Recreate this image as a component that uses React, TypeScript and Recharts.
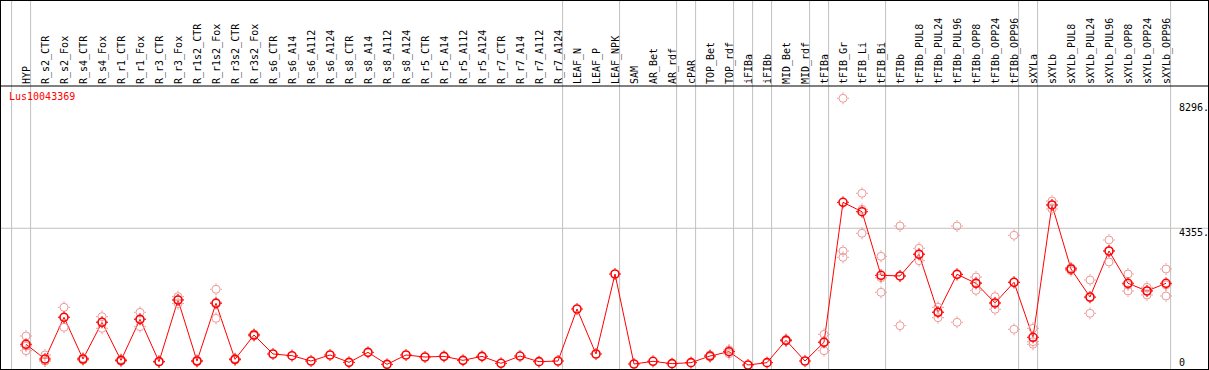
import { ComposedChart, Line, XAxis, YAxis, ReferenceLine } from 'recharts';

const labels = [
  'HYP', 'R_s2_CTR', 'R_s2_Fox', 'R_s4_CTR', 'R_s4_Fox', 'R_r1_CTR', 'R_r1_Fox', 'R_r3_CTR', 'R_r3_Fox',
  'R_r1s2_CTR', 'R_r1s2_Fox', 'R_r3s2_CTR', 'R_r3s2_Fox', 'R_s6_CTR', 'R_s6_A14', 'R_s6_A112', 'R_s6_A124',
  'R_s8_CTR', 'R_s8_A14', 'R_s8_A112', 'R_s8_A124', 'R_r5_CTR', 'R_r5_A14', 'R_r5_A112', 'R_r5_A124',
  'R_r7_CTR', 'R_r7_A14', 'R_r7_A112', 'R_r7_A124', 'LEAF_N', 'LEAF_P', 'LEAF_NPK', 'SAM', 'AR_Bet', 'AR_rdf',
  'cPAR', 'TOP_Bet', 'TOP_rdf', 'iFIBa', 'iFIBb', 'MID_Bet', 'MID_rdf', 'tFIBa', 'tFIB_Gr', 'tFIB_Li', 'tFIB_Bi',
  'tFIBb', 'tFIBb_PUL8', 'tFIBb_PUL24', 'tFIBb_PUL96', 'tFIBb_OPP8', 'tFIBb_OPP24', 'tFIBb_OPP96',
  'sXYLa', 'sXYLb', 'sXYLb_PUL8', 'sXYLb_PUL24', 'sXYLb_PUL96', 'sXYLb_OPP8', 'sXYLb_OPP24', 'sXYLb_OPP96',
];

const means = [
  697, 233, 1548, 233, 1390, 191, 1484, 149, 2093, 170, 1989, 223, 990, 391, 338, 170, 359, 128, 443, 65, 359,
  296, 317, 191, 317, 97, 327, 149, 170, 1810, 391, 2913, 76, 160, 86, 118, 327, 464, 44, 118, 822, 170, 759,
  5173, 4877, 2872, 2851, 3534, 1705, 2903, 2620, 1999, 2651, 917, 5089, 3071, 2188, 3638, 2620, 2377, 2620,
];

const N = null;
const rep1 = [
  958, 360, 1863, 260, 1568, 220, 1705, 160, 2200, 190, 2431, 250, 1020, N, N, N, N, N, N, N, N,
  N, N, N, N, N, N, N, N, N, N, N, N, N, N, N, 360, 520, N, N, 850, N, 1011,
  8452, 5457, 3471, 4426, 3723, 1863, 4426, 2819, 2198, 4133, 1201, 5215, 3113, 2724, 3985, 2913, 2494, 3071,
];
const rep2 = [
  496, 170, 1233, 200, 1201, 160, 1253, 140, 1980, 150, 1516, 200, 960, N, N, N, N, N, N, N, N,
  N, N, N, N, N, N, N, N, N, N, N, N, N, N, N, 300, 400, N, N, 800, N, 496,
  3638, 4196, 2336, 1284, 3333, 1536, 1390, 2399, 1800, 1170, 697, 4963, 3019, 1674, 3292, 2377, 2251, 2220,
];
const rep3 = [
  640, 170, 1548, 240, 1400, 190, 1494, 150, 2100, 170, 2020, 220, 990, N, N, N, N, N, N, N, N,
  N, N, N, N, N, N, N, N, N, N, N, N, N, N, N, 320, 470, N, N, 815, N, 770,
  3439, 4950, 2797, 2843, 3546, 1716, 2893, 2642, 2000, 2650, 780, 5089, 3080, 2166, 3637, 2570, 2386, 2569,
];

// a grey separator follows each of these category indices
const groupEnds = [-1, 0, 28, 31, 34, 35, 37, 38, 39, 41, 42, 45, 52, 53, 60];

const yTicks = [0, 4355, 8296];
const yTickLabels = ['0', '4355.', '8296.'];

const geneName = 'Lus10043369';

const data = labels.map((name, i) => ({
  i,
  name,
  mean: means[i],
  r1: rep1[i],
  r2: rep2[i],
  r3: rep3[i],
}));

const FONT = '"DejaVu Sans Mono", monospace';
const RED = '#ff0000';
const PINK = '#ec9a9a';
const GRID = '#c0c0c0';

const Marker = ({ cx, cy, color, width }: any) => {
  if (cx == null || cy == null) return null;
  return (
    <g>
      <circle cx={cx} cy={cy} r={4} fill="none" stroke={color} strokeWidth={width} />
      <line x1={cx} y1={cy - 6} x2={cx} y2={cy - 4.5} stroke={color} strokeWidth={1} />
      <line x1={cx} y1={cy + 4.5} x2={cx} y2={cy + 6} stroke={color} strokeWidth={1} />
      <line x1={cx - 6} y1={cy} x2={cx - 4.5} y2={cy} stroke={color} strokeWidth={1} />
      <line x1={cx + 4.5} y1={cy} x2={cx + 6} y2={cy} stroke={color} strokeWidth={1} />
    </g>
  );
};

const repDot = (props: any) => <Marker key={props.key} cx={props.cx} cy={props.cy} color={PINK} width={1} />;
const meanDot = (props: any) => <Marker key={props.key} cx={props.cx} cy={props.cy} color={RED} width={1.6} />;

const HeaderTick = (props: any) => {
  const { x, y, payload } = props;
  return (
    <text
      transform={`translate(${x + 3.5},${y}) rotate(-90)`}
      textAnchor="start"
      fontSize={10}
      fontFamily={FONT}
      fill="#000"
    >
      {labels[payload.value]}
    </text>
  );
};

const yLabel = (text: string) => (props: any) => {
  const { viewBox } = props;
  const base = Math.min(viewBox.y + 7.5, 366);
  return (
    <text x={viewBox.x + viewBox.width - 29} y={base} fontSize={10} fontFamily={FONT} fill="#000">
      {text}
    </text>
  );
};

export default function App() {
  return (
    <div style={{ position: 'relative', width: 1209, height: 370, background: '#fff' }}>
      <style>{'body{margin:0}'}</style>
      <ComposedChart
        width={1209}
        height={370}
        data={data}
        margin={{ top: 0, right: 1, left: 1, bottom: 1 }}
      >
        <XAxis
          dataKey="i"
          type="number"
          orientation="top"
          height={86}
          domain={[-25 / 19, 1182 / 19]}
          allowDataOverflow
          ticks={labels.map((_, i) => i)}
          interval={0}
          tickLine={false}
          tickSize={0}
          tickMargin={2}
          axisLine={{ stroke: '#000', strokeWidth: 1 }}
          tick={<HeaderTick />}
        />
        <YAxis hide domain={[-82, 8840]} allowDataOverflow />
        {groupEnds.map((b) => (
          <ReferenceLine
            key={b}
            segment={[{ x: b + 0.242, y: -82 }, { x: b + 0.242, y: 11560 }]}
            stroke={GRID}
            strokeWidth={1}
            ifOverflow="visible"
          />
        ))}
        {yTicks.map((t, k) => (
          <ReferenceLine
            key={t}
            y={t}
            stroke={t === 4355 ? GRID : 'none'}
            strokeWidth={1}
            label={yLabel(yTickLabels[k])}
          />
        ))}
        <Line dataKey="r1" stroke="none" dot={repDot} activeDot={false} isAnimationActive={false} />
        <Line dataKey="r2" stroke="none" dot={repDot} activeDot={false} isAnimationActive={false} />
        <Line dataKey="r3" stroke="none" dot={repDot} activeDot={false} isAnimationActive={false} />
        <Line
          dataKey="mean"
          stroke={RED}
          strokeWidth={1}
          dot={meanDot}
          activeDot={false}
          isAnimationActive={false}
        />
      </ComposedChart>
      <div
        style={{
          position: 'absolute',
          left: 9,
          top: 92,
          color: RED,
          fontFamily: FONT,
          fontSize: 10,
          lineHeight: '10px',
        }}
      >
        {geneName}
      </div>
      <div
        style={{
          position: 'absolute',
          inset: 0,
          border: '1px solid #000',
          boxSizing: 'border-box',
          pointerEvents: 'none',
        }}
      />
    </div>
  );
}
